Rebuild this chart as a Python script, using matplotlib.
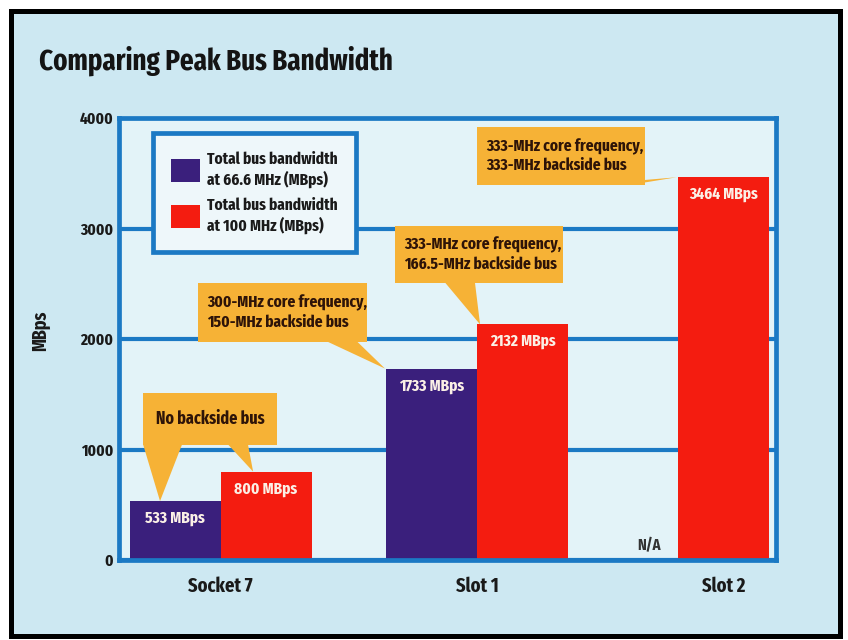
import matplotlib
matplotlib.use("Agg")
import matplotlib.pyplot as plt
from matplotlib.patches import Rectangle, Polygon, Patch

# ---- data ----
categories = ["Socket 7", "Slot 1", "Slot 2"]
bw_66mhz = [533, 1733, None]        # Slot 2 has no 66.6 MHz bus (N/A)
bw_100mhz = [800, 2132, 3464]
series_labels = ["Total bus bandwidth\nat 66.6 MHz (MBps)",
                 "Total bus bandwidth\nat 100 MHz (MBps)"]
yticks = [0, 1000, 2000, 3000, 4000]
callout_texts = ["No backside bus",
                 "300-MHz core frequency,\n150-MHz backside bus",
                 "333-MHz core frequency,\n166.5-MHz backside bus",
                 "333-MHz core frequency,\n333-MHz backside bus"]

# ---- style ----
FONT = ["Fira Sans Extra Condensed", "DejaVu Sans"]
plt.rcParams["font.family"] = FONT
plt.rcParams["font.weight"] = "bold"
plt.rcParams["axes.labelweight"] = "bold"
NAVY = "#3a1f7c"
RED = "#f41c10"
ORANGE = "#f6b236"
BLUE = "#1b79c4"
OUTER_BG = "#cde8f2"
PLOT_BG = "#e3f3f8"
CALLOUT_TXT = "#2e1408"
LABEL_TXT = "#fbf0e6"
FS = 12

fig = plt.figure(figsize=(8.48, 6.4), dpi=100)
fig.patch.set_facecolor("white")
fig.patches.append(Rectangle((10.5 / 848, 4 / 640), 829 / 848, 625 / 640,
                             transform=fig.transFigure, facecolor=OUTER_BG,
                             edgecolor="black", linewidth=3.6, zorder=0))

ax = fig.add_axes([119.5 / 848, 1 - 560 / 640, 656.5 / 848, 442 / 640])
ax.set_zorder(1)
ax.set_facecolor(PLOT_BG)

group_x = [0.0, 1.0, 1.784]
width = 0.355
xs_66 = [g - width / 2 for g in group_x]
xs_100 = [g + width / 2 for g in group_x]

vals_66 = [v if v is not None else 0 for v in bw_66mhz]
ax.bar(xs_66, vals_66, width=width, color=NAVY, zorder=2)
ax.bar(xs_100, bw_100mhz, width=width, color=RED, zorder=2)

# value labels inside the bar tops
for x, v in list(zip(xs_66, bw_66mhz)) + list(zip(xs_100, bw_100mhz)):
    if v is None:
        ax.text(x + 0.064, 60, "N/A", ha="center", va="bottom",
                fontsize=11.5, color="#333333", zorder=4)
        continue
    ax.annotate(f"{v} MBps", xy=(x, v), xytext=(0, -12.3),
                textcoords="offset points", ha="center", va="center",
                fontsize=FS, color=LABEL_TXT, zorder=4)

ax.set_xlim(-0.394, 2.166)
ax.set_ylim(0, 4000)
ax.set_yticks(yticks)
ax.set_yticklabels([str(t) for t in yticks])
ax.set_xticks([group_x[0], group_x[1], xs_100[2]])
ax.set_xticklabels(categories)
ax.tick_params(axis="both", length=0)
ax.tick_params(axis="y", pad=4.5, labelsize=FS, labelcolor="#1a1a1a")
ax.tick_params(axis="x", pad=12, labelsize=14.5, labelcolor="#1a1a1a")

for s in ax.spines.values():
    s.set_color(BLUE)
    s.set_linewidth(3.4)
    s.set_zorder(3)

ax.set_axisbelow(True)
ax.yaxis.grid(True, color=BLUE, linewidth=3.0)
ax.xaxis.grid(False)

ax.set_ylabel("MBps", fontsize=14, fontweight="bold", color="#1a1a1a")
ax.yaxis.set_label_coords(-0.106, 0.518)

# legend
handles = [Patch(facecolor=NAVY, edgecolor="none"),
           Patch(facecolor=RED, edgecolor="none")]
leg = ax.legend(handles, series_labels, loc="upper left",
                bbox_to_anchor=(0.051, 0.966), borderaxespad=0,
                fontsize=FS, frameon=True, fancybox=False,
                handlelength=1.7, handleheight=1.7, handletextpad=0.45,
                borderpad=1.1, labelspacing=0.6, labelcolor="#1a1a1a")
fr = leg.get_frame()
fr.set_facecolor("#eef7fa")
fr.set_edgecolor(BLUE)
fr.set_linewidth(3.4)
fr.set_alpha(1)
leg.set_zorder(6)

# callouts: box (x0, x1, y0, y1) and pointers (base x0, base x1, tip x, tip y)
callouts = [
    ((-0.302, 0.220, 1041, 1511),
     [(-0.302, -0.150, -0.236, bw_66mhz[0]), (0.029, 0.107, 0.127, bw_100mhz[0])],
     "center"),
    ((-0.088, 0.572, 1973, 2507),
     [(0.415, 0.532, 0.641, bw_66mhz[1])], "left"),
    ((0.680, 1.335, 2507, 3023),
     [(0.875, 0.992, 1.012, bw_100mhz[1])], "left"),
    ((1.000, 1.655, 3394, 3919),
     [(1.452, 1.608, 1.780, bw_100mhz[2])], "left"),
]
for (box, pointers, align), text in zip(callouts, callout_texts):
    x0, x1, y0, y1 = box
    ax.add_patch(Rectangle((x0, y0), x1 - x0, y1 - y0, facecolor=ORANGE,
                           edgecolor="none", zorder=3))
    for bx0, bx1, tx, ty in pointers:
        ax.add_patch(Polygon([(bx0, y0 + 5), (bx1, y0 + 5), (tx, ty)],
                             closed=True, facecolor=ORANGE, edgecolor="none",
                             zorder=3))
    if align == "center":
        ax.text((x0 + x1) / 2, (y0 + y1) / 2, text, ha="center", va="center",
                fontsize=FS + 0.5, color=CALLOUT_TXT, zorder=4)
    else:
        ax.text(x0 + 0.035, (y0 + y1) / 2, text, ha="left", va="center",
                fontsize=FS, color=CALLOUT_TXT, linespacing=1.2, zorder=4)

fig.text(39 / 848, 1 - 61 / 640, "Comparing Peak Bus Bandwidth",
         ha="left", va="center", fontsize=21, color="#141414")

fig.savefig("out.png", dpi=100, facecolor=fig.get_facecolor())
